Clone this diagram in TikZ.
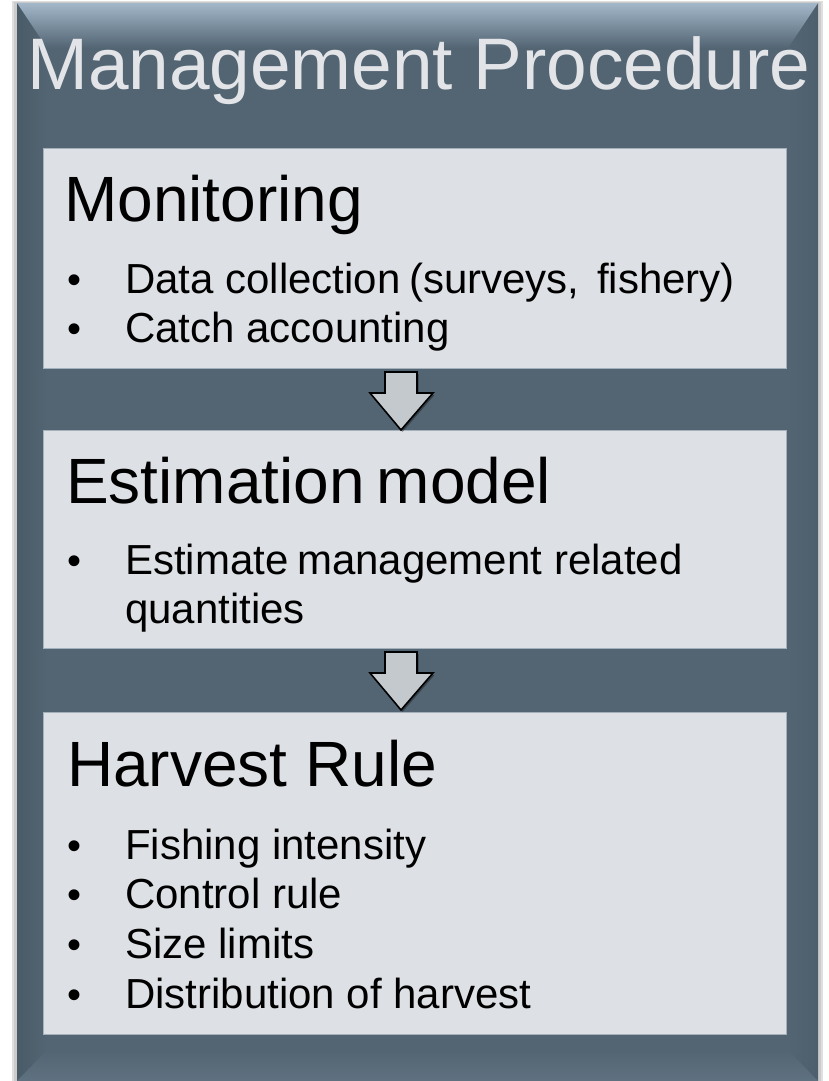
\documentclass[tikz,border=0pt]{standalone}
\usepackage{fontspec}
\setmainfont{Liberation Sans}
\usetikzlibrary{calc,shadows}
\definecolor{outer}{HTML}{536573}
\definecolor{outerdark}{HTML}{4A5B68}
\definecolor{bevel}{HTML}{A3B7C9}
\definecolor{inner}{HTML}{DDE0E4}
\definecolor{innerline}{HTML}{A4B0BA}
\definecolor{titletext}{HTML}{E2E4E8}
\definecolor{arrowfill}{HTML}{C4C9CE}
\tikzset{
  panel/.style={draw=innerline, line width=0.8pt, fill=inner, anchor=north west, inner sep=0pt, minimum width=743pt},
  heading/.style={anchor=base west, inner sep=0pt, font=\fontsize{64}{64}\selectfont, text=black},
  item/.style={anchor=base west, inner sep=0pt, font=\fontsize{42}{42}\selectfont, text=black},
  dot/.style={anchor=base, inner sep=0pt, font=\fontsize{40}{40}\selectfont, text=black},
  blockarrow/.style={draw=black, line width=1.6pt, fill=arrowfill, line join=miter,
     drop shadow={shadow xshift=1.5pt, shadow yshift=-2pt, opacity=0.35, fill=black}},
}
\begin{document}
\begin{tikzpicture}[x=1pt,y=-1pt]
\useasboundingbox (0,0) rectangle (828,1081);
% outer soft shadow
\fill[gray!25] (12,1) rectangle (823,1081);
\fill[gray!40] (14,2) rectangle (821,1081);
% outer box
\fill[outer] (17,3) rectangle (818,1081);
% bevels
\shade[left color=outerdark, right color=outer] (17,3) -- (47,40) -- (47,1050) -- (17,1081) -- cycle;
\shade[left color=outer, right color=outerdark!60!outer] (818,3) -- (788,40) -- (788,1050) -- (818,1081) -- cycle;
\shade[top color=bevel, bottom color=outer] (17,3) -- (818,3) -- (788,48) -- (47,48) -- cycle;
\shade[top color=outer, bottom color=outer!85!bevel] (47,1050) -- (788,1050) -- (818,1081) -- (17,1081) -- cycle;

% title
\node[anchor=base west, inner sep=0pt, font=\fontsize{73}{73}\selectfont, text=titletext] (title) at (27,89) {Management Procedure};

% panels
\node[panel, minimum height=220pt] (mon) at (43,148) {};
\node[panel, minimum height=218pt] (est) at (43,430) {};
\node[panel, minimum height=322pt] (har) at (43,712) {};

% arrows
\coordinate (a1) at (401,372);
\coordinate (a2) at (401,652);
\draw[blockarrow] ($(a1)+(-16,0)$) -- ($(a1)+(16,0)$) -- ($(a1)+(16,21)$) -- ($(a1)+(32,21)$)
   -- (401,430) -- ($(a1)+(-31,21)$) -- ($(a1)+(-16,21)$) -- cycle;
\draw[blockarrow] ($(a2)+(-16,0)$) -- ($(a2)+(16,0)$) -- ($(a2)+(16,21)$) -- ($(a2)+(32,21)$)
   -- (401,710) -- ($(a2)+(-31,21)$) -- ($(a2)+(-16,21)$) -- cycle;

% Monitoring
\node[heading] (monh) at (64,221) {Monitoring};
\node[dot] (b11) at (75,293) {•};
\node[item] (t11) at (125,293) {Data collection\hspace{-3pt} (surveys,\hspace{6pt} fishery)};
\node[dot] (b12) at (75,342) {•};
\node[item] (t12) at (125,342) {Catch accounting};

% Estimation
\node[heading] (esth) at (66,503) {Estimation\hspace{-6pt} model};
\node[dot] (b21) at (75,574) {•};
\node[item] (t21) at (125,574) {Estimate\hspace{-3pt} management related};
\node[item] (t22) at (125,623) {quantities};

% Harvest
\node[heading] (harh) at (67,786) {Harvest Rule};
\node[dot] (b31) at (75,859) {•};
\node[item] (t31) at (125,859) {Fishing intensity};
\node[dot] (b32) at (75,908) {•};
\node[item] (t32) at (125,908) {Control rule};
\node[dot] (b33) at (75,958) {•};
\node[item] (t33) at (125,958) {Size limits};
\node[dot] (b34) at (75,1008) {•};
\node[item] (t34) at (125,1008) {Distribution of harvest};
\end{tikzpicture}
\end{document}
